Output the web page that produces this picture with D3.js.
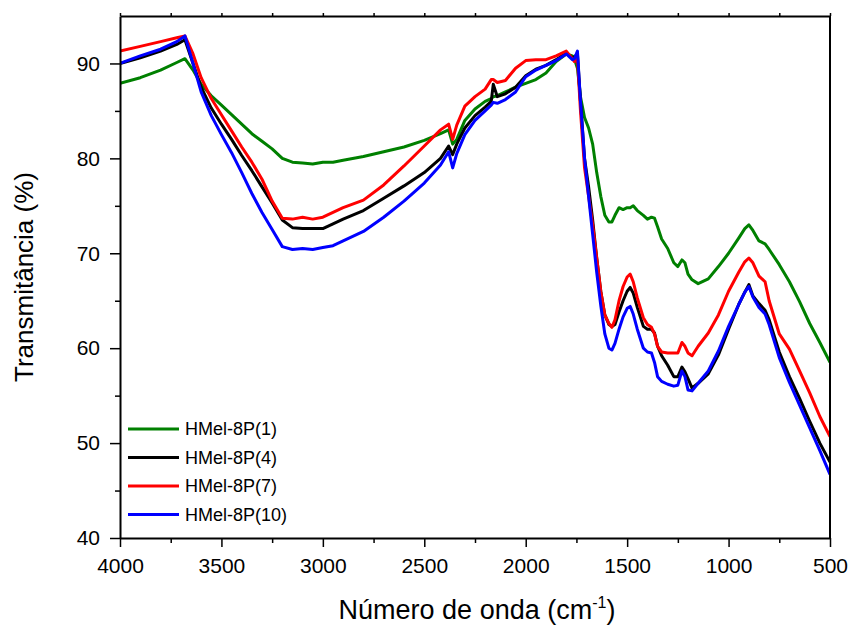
<!DOCTYPE html>
<html>
<head>
<meta charset="utf-8">
<script src="https://cdn.jsdelivr.net/npm/d3@7"></script>
<style>
  body { margin: 0; background: #fff; }
  svg text { font-family: Arial, "Liberation Sans", sans-serif; fill: #000; }
</style>
</head>
<body>
<div id="chart"></div>
<script>
// wavenumbers (cm-1), shared by all series
var wavenumber = [4000, 3900, 3800, 3720, 3680, 3640, 3600, 3550, 3500, 3450, 3400, 3350, 3300, 3250, 3200, 3150, 3100, 3050, 3000, 2950, 2900, 2800, 2700, 2600, 2500, 2420, 2380, 2360, 2340, 2300, 2250, 2200, 2170, 2160, 2140, 2100, 2050, 2000, 1950, 1900, 1850, 1800, 1770, 1760, 1745, 1730, 1710, 1690, 1670, 1650, 1630, 1610, 1590, 1575, 1560, 1540, 1520, 1500, 1485, 1470, 1450, 1420, 1400, 1380, 1365, 1350, 1330, 1300, 1270, 1250, 1230, 1215, 1200, 1180, 1150, 1100, 1050, 1000, 950, 920, 900, 880, 850, 820, 800, 750, 700, 650, 600, 550, 500];

var hmel1 = [87.9, 88.5, 89.3, 90.1, 90.5, 89.3, 87.8, 86.6, 85.6, 84.6, 83.6, 82.6, 81.8, 81.0, 80.0, 79.6, 79.5, 79.4, 79.6, 79.6, 79.8, 80.2, 80.7, 81.2, 81.9, 82.6, 83.0, 81.5, 82.0, 84.0, 85.2, 86.0, 86.3, 86.5, 86.6, 87.0, 87.5, 87.9, 88.3, 89.0, 90.2, 91.0, 90.8, 90.5, 89.5, 86.5, 84.3, 83.2, 81.5, 78.5, 76.0, 74.0, 73.3, 73.3, 74.0, 74.8, 74.6, 74.8, 74.8, 75.0, 74.5, 74.0, 73.6, 73.8, 73.7, 72.8, 71.5, 70.5, 69.0, 68.6, 69.3, 69.0, 67.8, 67.2, 66.8, 67.3, 68.6, 70.0, 71.6, 72.6, 73.0, 72.4, 71.3, 71.0, 70.4, 68.8, 67.0, 64.9, 62.6, 60.6, 58.5];

var hmel4 = [90.0, 90.6, 91.3, 92.0, 92.5, 90.0, 87.5, 85.3, 83.6, 82.0, 80.3, 78.7, 77.0, 75.3, 73.5, 72.7, 72.6, 72.6, 72.6, 73.1, 73.6, 74.5, 75.8, 77.1, 78.5, 80.0, 81.3, 80.4, 81.5, 83.2, 84.5, 85.4, 86.0, 87.8, 86.5, 86.8, 87.5, 88.7, 89.4, 89.8, 90.4, 91.1, 90.6, 90.7, 91.0, 86.0, 80.0, 77.0, 73.5, 69.5, 66.0, 63.5, 62.5, 62.3, 62.5, 63.8, 65.0, 66.0, 66.4, 65.8, 64.3, 62.3, 62.0, 62.0, 61.6, 60.2, 59.2, 58.2, 57.0, 57.0, 58.0, 57.5, 56.8, 55.8, 56.3, 57.3, 59.3, 62.0, 64.6, 65.9, 66.7, 65.5, 64.7, 64.0, 63.0, 59.6, 57.0, 54.7, 52.3, 50.0, 48.0];

var hmel7 = [91.3, 91.8, 92.3, 92.7, 92.9, 91.0, 88.5, 86.3, 84.6, 82.9, 81.2, 79.6, 77.8, 75.5, 73.7, 73.6, 73.8, 73.6, 73.8, 74.3, 74.8, 75.6, 77.2, 79.2, 81.3, 83.0, 83.6, 82.0, 83.5, 85.5, 86.5, 87.3, 88.3, 88.3, 88.0, 88.2, 89.5, 90.3, 90.4, 90.4, 90.8, 91.3, 90.5, 90.2, 90.5, 85.0, 79.0, 76.0, 73.0, 69.5, 66.0, 63.5, 62.6, 62.2, 63.0, 65.0, 66.5, 67.5, 67.8, 67.0, 65.3, 63.2, 62.5, 62.2, 61.5, 60.2, 59.6, 59.5, 59.5, 59.5, 60.6, 60.2, 59.5, 59.2, 60.2, 61.6, 63.5, 66.0, 68.0, 69.1, 69.5, 69.0, 67.6, 67.0, 65.0, 61.5, 59.9, 57.6, 55.3, 52.8, 50.7];

var hmel10 = [90.0, 90.8, 91.5, 92.3, 92.9, 90.0, 87.0, 84.5, 82.5, 80.6, 78.5, 76.3, 74.3, 72.5, 70.7, 70.4, 70.5, 70.4, 70.6, 70.8, 71.3, 72.3, 73.8, 75.5, 77.4, 79.3, 80.7, 79.0, 80.5, 82.5, 84.0, 85.0, 85.6, 85.9, 85.8, 86.2, 87.0, 88.6, 89.3, 89.8, 90.3, 91.0, 90.4, 90.5, 91.3, 86.0, 80.0, 76.0, 72.0, 68.0, 64.5, 61.5, 60.0, 59.8, 60.5, 62.0, 63.3, 64.2, 64.4, 63.6, 62.0, 60.0, 59.6, 59.5, 58.5, 57.0, 56.5, 56.2, 56.0, 56.1, 57.6, 57.0, 55.6, 55.5, 56.3, 57.6, 59.7, 62.3, 64.6, 65.9, 66.5, 65.4, 64.3, 63.6, 62.5, 59.0, 56.4, 54.0, 51.6, 49.2, 46.7];

var seriesNames = ["HMel-8P(1)", "HMel-8P(4)", "HMel-8P(7)", "HMel-8P(10)"];
var seriesColors = ["#008000", "#000000", "#ff0000", "#0000ff"];
var seriesValues = [hmel1, hmel4, hmel7, hmel10];

var xTicks = [4000, 3500, 3000, 2500, 2000, 1500, 1000, 500];
var yTicks = [40, 50, 60, 70, 80, 90];

var width = 850, height = 625;
var margin = {top: 16, right: 20, bottom: 87, left: 120};
var iw = width - margin.left - margin.right;
var ih = height - margin.top - margin.bottom;

var svg = d3.select("#chart").append("svg")
    .attr("width", width)
    .attr("height", height);

var g = svg.append("g").attr("transform", "translate(" + margin.left + "," + margin.top + ")");

var x = d3.scaleLinear().domain([4000, 500]).range([0, iw]);
var y = d3.scaleLinear().domain([40, 95]).range([ih, 0]);

g.append("clipPath").attr("id", "clip")
    .append("rect").attr("width", iw).attr("height", ih);

var line = d3.line()
    .x(function (d) { return x(d[0]); })
    .y(function (d) { return y(d[1]); });

seriesValues.forEach(function (vals, i) {
    g.append("path")
        .datum(wavenumber.map(function (w, j) { return [w, vals[j]]; }))
        .attr("clip-path", "url(#clip)")
        .attr("fill", "none")
        .attr("stroke", seriesColors[i])
        .attr("stroke-width", 3)
        .attr("stroke-linejoin", "round")
        .attr("d", line);
});

// bottom axis: major + minor ticks
var xAxis = g.append("g").attr("transform", "translate(0," + ih + ")")
    .call(d3.axisBottom(x).tickValues(xTicks).tickFormat(d3.format("d")).tickSize(9).tickSizeOuter(0).tickPadding(11));
g.append("g").attr("transform", "translate(0," + ih + ")")
    .call(d3.axisBottom(x).tickValues(d3.range(3750, 500, -500)).tickSize(5).tickFormat("").tickSizeOuter(0))
    .select(".domain").remove();

// left axis
var yAxis = g.append("g")
    .call(d3.axisLeft(y).tickValues(yTicks).tickSize(10).tickSizeOuter(0).tickPadding(10));
g.append("g")
    .call(d3.axisLeft(y).tickValues([45, 55, 65, 75, 85]).tickSize(5).tickFormat("").tickSizeOuter(0))
    .select(".domain").remove();

// top axis (ticks only)
g.append("g")
    .call(d3.axisTop(x).tickValues(d3.range(4000, 499, -250)).tickSize(3).tickFormat("").tickSizeOuter(0));

// right frame
g.append("line").attr("x1", iw).attr("x2", iw).attr("y1", 0).attr("y2", ih)
    .attr("stroke", "#000").attr("stroke-width", 2);

svg.selectAll(".domain").attr("stroke-width", 2);
svg.selectAll(".tick line").attr("stroke-width", 1.5);
svg.selectAll(".tick text").style("font-size", "21px").style("font-family", "Arial, 'Liberation Sans', sans-serif");

// legend
var legend = g.append("g").attr("transform", "translate(8, 413)");
seriesNames.forEach(function (name, i) {
    var row = legend.append("g").attr("transform", "translate(0," + (i * 28.5) + ")");
    row.append("line").attr("x1", 0).attr("x2", 51).attr("y1", 0).attr("y2", 0)
        .attr("stroke", seriesColors[i]).attr("stroke-width", 3);
    row.append("text").attr("x", 57).attr("y", 6).style("font-size", "18px").text(name);
});

// axis titles
svg.append("text")
    .attr("x", margin.left + iw / 2 + 2)
    .attr("y", 619)
    .attr("text-anchor", "middle")
    .style("font-size", "27px")
    .html('Número de onda (cm<tspan dy="-11" style="font-size:16px">-1</tspan><tspan dy="11">)</tspan>');

svg.append("text")
    .attr("transform", "translate(33," + (margin.top + ih / 2) + ") rotate(-90)")
    .attr("text-anchor", "middle")
    .style("font-size", "26px")
    .text("Transmitância (%)");
</script>
</body>
</html>
